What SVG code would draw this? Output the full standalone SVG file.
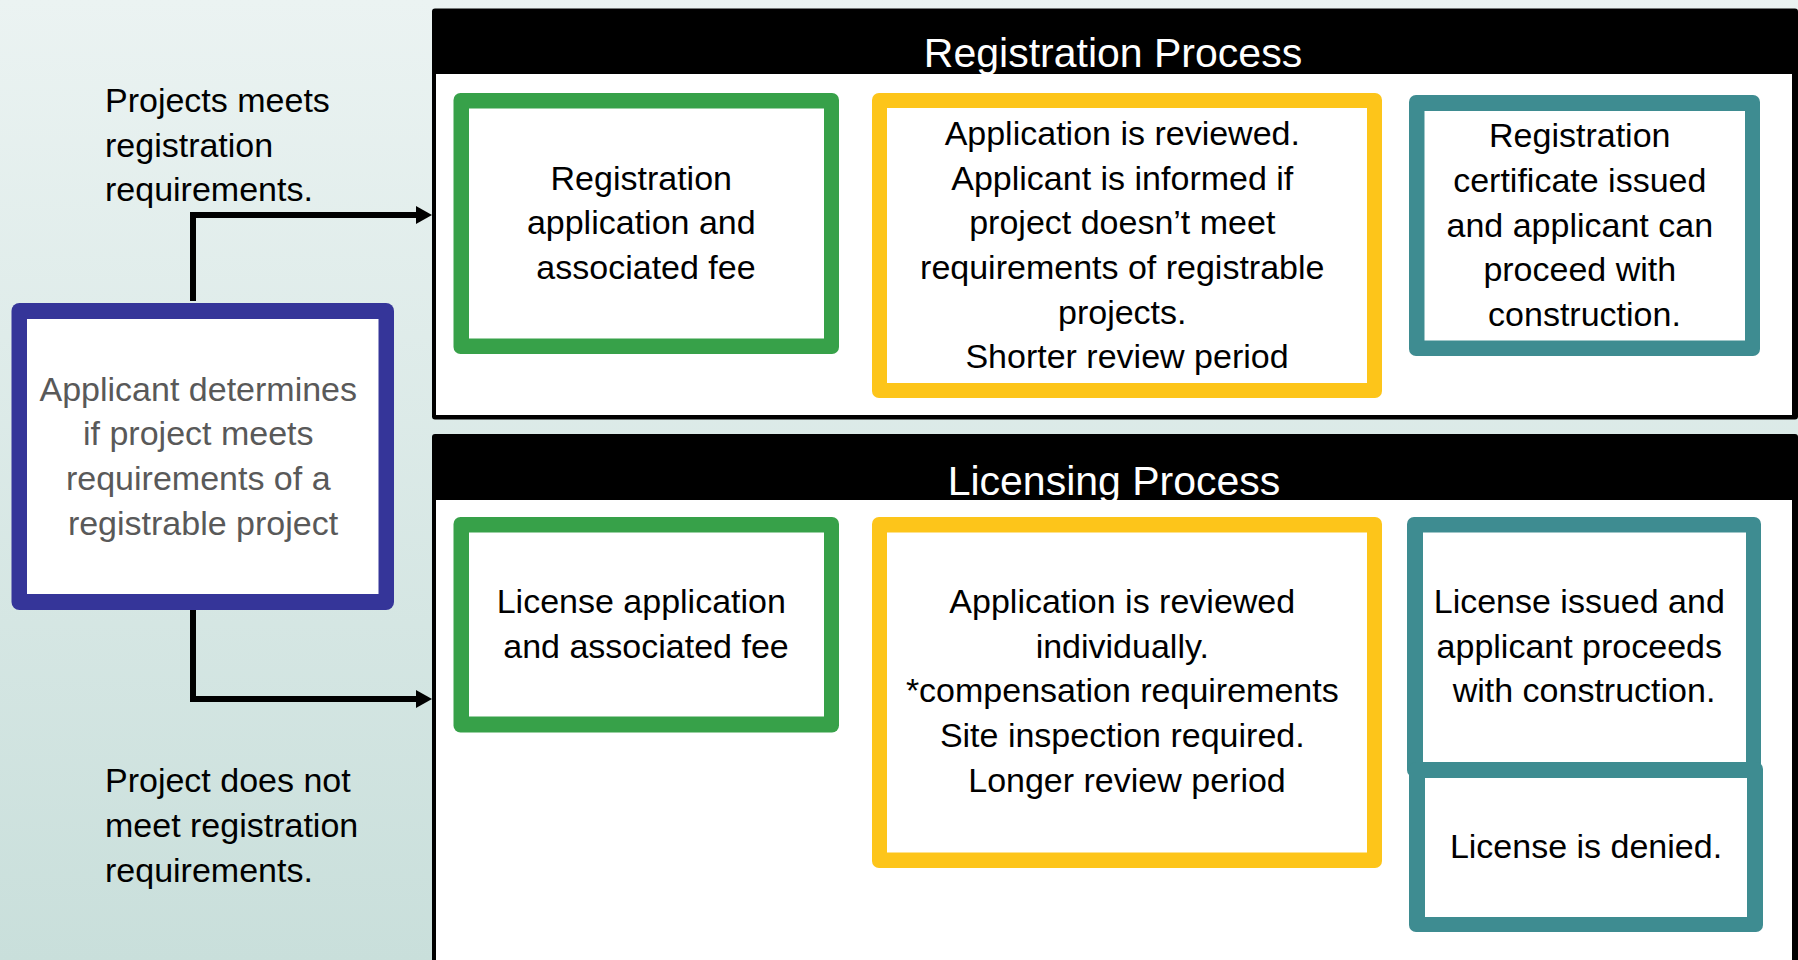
<svg xmlns="http://www.w3.org/2000/svg" width="1798" height="960" viewBox="0 0 1798 960">
  <defs>
    <linearGradient id="bg" x1="0" y1="0" x2="0" y2="1">
      <stop offset="0" stop-color="#ebf3f2"/>
      <stop offset="1" stop-color="#c9dfdb"/>
    </linearGradient>
    <marker id="arrow" markerUnits="userSpaceOnUse" viewBox="0 0 16 18" markerWidth="16" markerHeight="18" refX="1" refY="9" orient="auto">
      <path d="M0,0 L16,9 L0,18 Z" fill="#000"/>
    </marker>
    <style>
      .t { font-family: "Liberation Sans", Arial, sans-serif; font-size: 34px; fill: #000; }
      .c { text-anchor: middle; }
      .gray { fill: #595959; }
      .hdr { font-family: "Liberation Sans", Arial, sans-serif; font-size: 41px; fill: #fff; text-anchor: middle; }
      .inner { fill: #fff; }
      .green { fill: #37a149; }
      .yellow { fill: #fdc51a; }
      .teal { fill: #3e8c91; }
      .blue { fill: #353599; }
      .conn { fill: none; stroke: #000; stroke-width: 6; marker-end: url(#arrow); }
    </style>
  </defs>

  <rect x="0" y="0" width="1798" height="960" fill="url(#bg)"/>

  <!-- Registration panel -->
  <g id="registration-panel">
    <rect x="432" y="8.5" width="1366" height="411" rx="3" fill="#000"/>
    <rect x="436" y="74" width="1356" height="341" fill="#fff"/>
    <text class="hdr" x="1113" y="67">Registration Process</text>
  </g>

  <!-- Licensing panel -->
  <g id="licensing-panel">
    <rect x="432" y="434" width="1366" height="540" rx="3" fill="#000"/>
    <rect x="436" y="500" width="1356" height="470" fill="#fff"/>
    <text class="hdr" x="1114" y="495">Licensing Process</text>
  </g>

  <!-- Decision node -->
  <g id="applicant-determines">
    <rect class="blue" x="11.5" y="303" width="382.5" height="307" rx="8"/>
    <rect class="inner" x="27" y="319" width="351.5" height="275"/>
    <text class="t c gray">
      <tspan x="203" y="400.5">Applicant determines</tspan>
      <tspan x="203" y="445.3">if project meets</tspan>
      <tspan x="203" y="490.1">requirements of a</tspan>
      <tspan x="203" y="534.9">registrable project</tspan>
    </text>
  </g>

  <g id="label-meets">
    <text class="t">
      <tspan x="105" y="111.7">Projects meets</tspan>
      <tspan x="105" y="156.5">registration</tspan>
      <tspan x="105" y="201.3">requirements.</tspan>
    </text>
  </g>

  <g id="label-not-meets">
    <text class="t">
      <tspan x="105" y="792">Project does not</tspan>
      <tspan x="105" y="836.8">meet registration</tspan>
      <tspan x="105" y="881.6">requirements.</tspan>
    </text>
  </g>

  <!-- Registration row -->
  <g id="reg-application">
    <rect class="green" x="453.5" y="93" width="385.5" height="261" rx="7"/>
    <rect class="inner" x="469" y="108.5" width="355" height="230"/>
    <text class="t c">
      <tspan x="646" y="189.5">Registration</tspan>
      <tspan x="646" y="234">application and</tspan>
      <tspan x="646" y="278.5">associated fee</tspan>
    </text>
  </g>

  <g id="reg-review">
    <rect class="yellow" x="872" y="93" width="510" height="305" rx="7"/>
    <rect class="inner" x="887" y="108" width="480" height="275"/>
    <text class="t c">
      <tspan x="1127" y="145">Application is reviewed.</tspan>
      <tspan x="1127" y="189.7">Applicant is informed if</tspan>
      <tspan x="1127" y="234.4">project doesn’t meet</tspan>
      <tspan x="1127" y="279">requirements of registrable</tspan>
      <tspan x="1127" y="323.7">projects.</tspan>
      <tspan x="1127" y="368.4">Shorter review period</tspan>
    </text>
  </g>

  <g id="reg-certificate">
    <rect class="teal" x="1409" y="95" width="351" height="261" rx="7"/>
    <rect class="inner" x="1424.5" y="111" width="320.5" height="229.5"/>
    <text class="t c">
      <tspan x="1584.5" y="147">Registration</tspan>
      <tspan x="1584.5" y="191.8">certificate issued</tspan>
      <tspan x="1584.5" y="236.6">and applicant can</tspan>
      <tspan x="1584.5" y="281.4">proceed with</tspan>
      <tspan x="1584.5" y="326.2">construction.</tspan>
    </text>
  </g>

  <!-- Licensing row -->
  <g id="lic-application">
    <rect class="green" x="453.5" y="517" width="385.5" height="215.5" rx="7"/>
    <rect class="inner" x="469" y="532.5" width="355" height="184"/>
    <text class="t c">
      <tspan x="646" y="612.8">License application</tspan>
      <tspan x="646" y="657.6">and associated fee</tspan>
    </text>
  </g>

  <g id="lic-review">
    <rect class="yellow" x="872" y="517" width="510" height="351" rx="7"/>
    <rect class="inner" x="887" y="532.5" width="480" height="320"/>
    <text class="t c">
      <tspan x="1127" y="612.8">Application is reviewed</tspan>
      <tspan x="1127" y="657.6">individually.</tspan>
      <tspan x="1127" y="702.4">*compensation requirements</tspan>
      <tspan x="1127" y="747.2">Site inspection required.</tspan>
      <tspan x="1127" y="792">Longer review period</tspan>
    </text>
  </g>

  <g id="lic-issued">
    <rect class="teal" x="1407" y="517" width="354" height="260" rx="7"/>
    <rect class="inner" x="1423" y="532.5" width="323" height="229.5"/>
    <text class="t c">
      <tspan x="1584" y="612.8">License issued and</tspan>
      <tspan x="1584" y="657.6">applicant proceeds</tspan>
      <tspan x="1584" y="702.4">with construction.</tspan>
    </text>
  </g>

  <g id="lic-denied">
    <rect class="teal" x="1409" y="762" width="354" height="170" rx="7"/>
    <rect class="inner" x="1425" y="778" width="322" height="139"/>
    <text class="t c">
      <tspan x="1586" y="858">License is denied.</tspan>
    </text>
  </g>

  <!-- Connectors -->
  <g id="connectors">
    <path class="conn" d="M193,301 V215 H417"/>
    <path class="conn" d="M193,610 V699 H417"/>
  </g>
</svg>
